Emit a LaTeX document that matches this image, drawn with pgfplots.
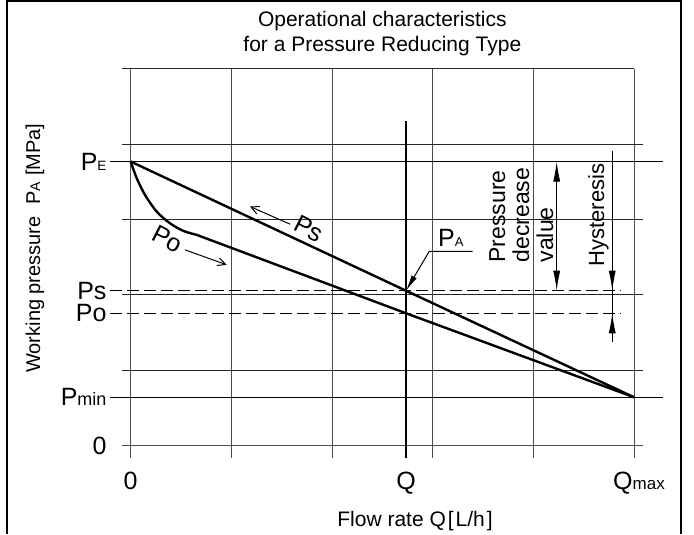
\documentclass[border=0pt]{standalone}
\usepackage{fontspec}
\setmainfont{Liberation Sans}
\usepackage{pgfplots}
\pgfplotsset{compat=1.18}
\usetikzlibrary{arrows.meta}
\newcommand{\fs}[1]{\fontsize{#1}{#1}\selectfont}
\begin{document}
\begin{tikzpicture}
\begin{axis}[
 x=100.66pt, y=75.44pt,
 xmin=0, xmax=5, ymin=0, ymax=5,
 clip=false,
 axis line style={draw=none},
 major tick length=0pt,
 xtick={0,2.735,5},
 xticklabels={0,Q,\hspace{10pt}Q{\fs{17}max}},
 ytick={0,0.643,1.756,2.055,3.767},
 yticklabels={0,P{\fs{18}min},Po,Ps,P{\fs{13.5}E}},
 xticklabel style={font=\fs{25}, anchor=north, inner sep=0pt, yshift=-26pt},
 yticklabel style={font=\fs{25}, anchor=east, inner sep=0pt, xshift=-24pt},
 title={Operational characteristics\\for a Pressure Reducing Type},
 title style={font=\fontsize{21}{25}\selectfont, align=center, at={(0.5,1.0159)}, anchor=south, inner sep=0pt},
 xlabel={Flow rate Q\hspace{2pt}[\hspace{2pt}L/h\hspace{2pt}]},
 xlabel style={font=\fs{21}, at={(0.565,-0.2142)}, anchor=base, inner sep=0pt},
 ylabel={Working pressure\hspace{12pt}P{\fs{14}A}\hspace{6pt}[MPa]},
 ylabel style={font=\fs{20}, at={(-0.190,0.524)}, anchor=center, inner sep=0pt},
]
% bounding box and frame
\path (-1.2984,5.8881) rectangle (5.5961,-1.1638);
\draw[line width=2pt] (-1.2289,-1.1638) -- (-1.2289,5.8953) -- (5.4666,5.8953) -- (5.4666,-1.1638);
% vertical grid
\draw[black!70, line width=1pt] (0,5) -- (0,-0.156);
\draw[black!70, line width=1pt] (1,5) -- (1,-0.156);
\draw[black!70, line width=1pt] (2,5) -- (2,-0.156);
\draw[black!70, line width=1pt] (3,5) -- (3,-0.156);
\draw[black!70, line width=1pt] (4,5) -- (4,-0.156);
\draw[black!70, line width=1pt] (5,5) -- (5,-0.156);
% horizontal grid
\draw[black!70, line width=1pt] (-0.089,0) -- (5.092,0);
\draw[black!85, line width=0.9pt] (-0.089,1) -- (5.092,1);
\draw[black!85, line width=0.9pt] (-0.089,2) -- (5.092,2);
\draw[black!85, line width=0.9pt] (-0.089,3) -- (5.092,3);
\draw[black!85, line width=0.9pt] (-0.089,4) -- (5.092,4);
\draw[black!85, line width=0.9pt] (-0.089,5) -- (5,5);
% Q line
\draw[line width=1.4pt] (2.735,4.307) -- (2.735,-0.156);
% PE and Pmin lines
\draw[line width=1pt] (-0.206,3.767) -- (5.285,3.767);
\draw[line width=1pt] (-0.206,0.643) -- (5.285,0.643);
% Ps and Po dashed
\draw[line width=1pt, dash pattern=on 12pt off 5pt] (-0.206,2.055) -- (4.861,2.055);
\draw[line width=1pt, dash pattern=on 12pt off 5pt] (-0.206,1.756) -- (4.861,1.756);
% curves
\addplot[black, line width=2.4pt, no marks] coordinates {(0,3.767) (2.735,2.055) (5,0.643)};
\addplot[black, line width=2.4pt, no marks, smooth] coordinates {(0,3.767) (0.06,3.546) (0.142,3.325) (0.258,3.104) (0.39,2.949) (0.523,2.848) (0.656,2.795)};
\addplot[black, line width=2.4pt, no marks] coordinates {(0.656,2.795) (2.735,1.756) (5,0.643)};
% curve labels and arrows
\node[font=\fs{25}, rotate=-27, inner sep=0pt] at (1.771,2.879) {Ps};
\node[font=\fs{25}, rotate=-27, inner sep=0pt] at (0.366,2.740) {Po};
\draw[line width=1pt, -{Straight Barb[length=8pt,width=8pt]}] (1.585,2.936) -- (1.185,3.171);
\draw[line width=1pt, -{Straight Barb[length=8pt,width=8pt]}] (0.539,2.597) -- (0.954,2.398);
% PA leader
\draw[line width=1pt, -{Latex[length=16pt,width=6pt]}] (3.398,2.577) -- (2.966,2.577) -- (2.735,2.055);
\node[font=\fs{25}, anchor=base west, inner sep=0pt] at (3.053,2.640) {P{\fs{13}A}};
% pressure decrease value
\draw[line width=1pt, {Latex[length=20pt,width=7pt]}-{Latex[length=20pt,width=7pt]}] (4.232,3.767) -- (4.232,2.055);
\node[font=\fontsize{23}{24}\selectfont, rotate=90, anchor=north west, inner sep=0pt, align=left] at (3.56,2.428) {Pressure\\decrease\\value};
% hysteresis
\draw[line width=1pt] (4.784,3.909) -- (4.784,1.372);
\draw[line width=1pt, -{Latex[length=20pt,width=7pt]}] (4.784,2.4) -- (4.784,2.055);
\draw[line width=1pt, -{Latex[length=20pt,width=7pt]}] (4.784,1.372) -- (4.784,1.756);
\node[font=\fs{22}, rotate=90, anchor=north west, inner sep=0pt] at (4.543,2.375) {Hysteresis};
\end{axis}
\end{tikzpicture}
\end{document}
